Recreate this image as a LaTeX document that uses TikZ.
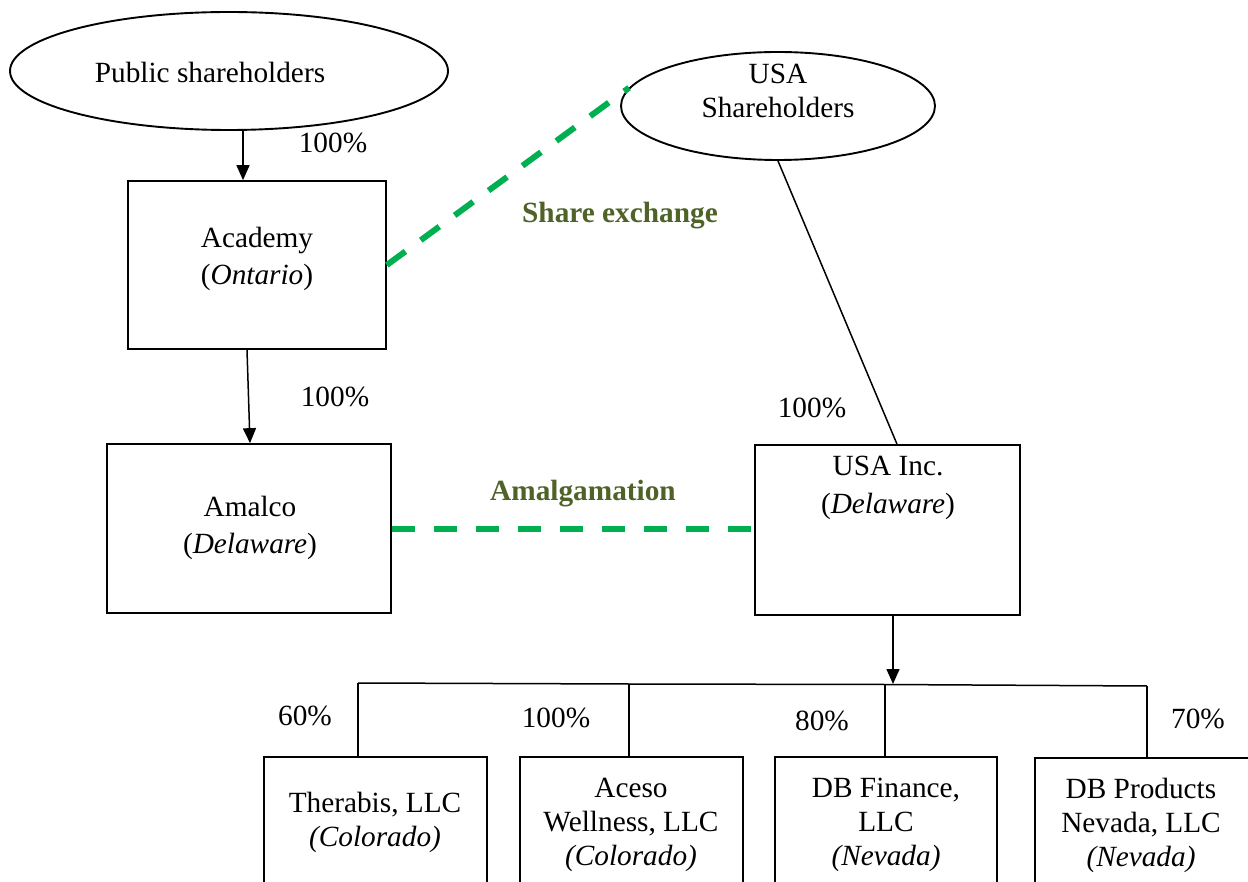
\documentclass[tikz,border=0pt]{standalone}
\usepackage{fontspec}
\setmainfont{Liberation Serif}
\usetikzlibrary{shapes.geometric,arrows.meta,calc}
\definecolor{dgreen}{HTML}{00B050}
\definecolor{olivelbl}{HTML}{4F6228}
\begin{document}
\begin{tikzpicture}[x=1pt,y=-1pt,
  every node/.style={font=\fontsize{29.3}{34}\selectfont},
  txt/.style={align=center, inner sep=0},
  wtxt/.style={align=center, inner sep=0, font=\fontsize{29.3}{37.5}\selectfont},
  box/.style={draw, line width=1.7pt, rectangle, inner sep=0},
  oval/.style={draw, line width=1.9pt, ellipse, inner sep=0},
  conn/.style={line width=1.5pt},
  arr/.style={conn, -{Triangle[length=15pt,width=13pt]}},
  greendash/.style={draw=dgreen, line width=6pt, dash pattern=on 23pt off 19pt},
  deal/.style={font=\fontsize{29.3}{34}\selectfont\bfseries, text=olivelbl, inner sep=0},
  pct/.style={inner sep=0}]
\clip (0,0) rectangle (1248,882);
\fill[white] (0,0) rectangle (1248,882);

% ellipses
\node[oval, minimum width=438pt, minimum height=118pt] (pub) at (229,71) {};
\node[oval, minimum width=314pt, minimum height=108pt] (usash) at (778,106) {};
\node[txt] (pubt) at (210,72) {Public shareholders};
\node[txt] (usasht) at (778,91) {USA\\Shareholders};

% main boxes
\node[box, minimum width=258pt, minimum height=168pt] (acad) at (257,265) {};
\node[box, minimum width=284pt, minimum height=169pt] (amal) at (249,528.5) {};
\node[box, minimum width=265pt, minimum height=170pt] (usainc) at (887.5,530) {};
\node[wtxt] (acadt) at (257,259) {Academy\\(\textit{Ontario})};
\node[wtxt] (amalt) at (250,528) {Amalco\\(\textit{Delaware})};
\node[wtxt] (usainct) at (888,488) {USA Inc.\\(\textit{Delaware})};

% bottom boxes
\node[box, minimum width=223pt, minimum height=193pt] (thera) at (375.5,853.5) {};
\node[box, minimum width=223pt, minimum height=193pt] (aceso) at (631.5,853.5) {};
\node[box, minimum width=222pt, minimum height=193pt] (dbf) at (886,853.5) {};
\node[box, minimum width=223pt, minimum height=193pt] (dbp) at (1146.5,854.5) {};
\node[txt] (therat) at (375,822) {Therabis, LLC\\\textit{(Colorado)}};
\node[txt] (acesot) at (631,825) {Aceso\\Wellness, LLC\\\textit{(Colorado)}};
\node[txt] (dbft) at (886,825) {DB Finance,\\LLC\\\textit{(Nevada)}};
\node[txt] (dbpt) at (1141,825) {DB Products\\Nevada, LLC\\\textit{(Nevada)}};

% percentages
\node[pct] (p1) at (333,143) {100\%};
\node[pct] (p2) at (335,397) {100\%};
\node[pct] (p3) at (812,408) {100\%};
\node[pct] (p4) at (305,716) {60\%};
\node[pct] (p5) at (556,718) {100\%};
\node[pct] (p6) at (822,721) {80\%};
\node[pct] (p7) at (1198,719) {70\%};

% deal labels
\node[deal] (se) at (620,216) {Share exchange};
\node[deal] (am) at (583,494) {Amalgamation};

% connectors
\coordinate (a1) at ($(pub.south)+(14,0)$);
\draw[arr] (a1) -- (a1 |- acad.north);
\draw[arr] ($(acad.south)+(-10,0)$) -- ($(amal.north)+(1,0)$);
\draw[conn] (usash.south) -- ($(usainc.north)+(9.5,0)$);
\draw[greendash] (acad.east) -- (usash.173);
\draw[greendash] (amal.east) -- (amal.east -| usainc.west);

% tree
\coordinate (bus) at (893,684);
\coordinate (j1) at (358,683);
\coordinate (j2) at (629,684);
\coordinate (j3) at (885,684.5);
\coordinate (j4) at (1147,686);
\draw[arr] (usainc.south -| bus) -- (bus);
\draw[conn] (j1) -- (j2) -- (j3) -- (j4);
\draw[conn] (j1) -- (j1 |- thera.north);
\draw[conn] (j2) -- (j2 |- aceso.north);
\draw[conn] (j3) -- (j3 |- dbf.north);
\draw[conn] (j4) -- (j4 |- dbp.north);
\end{tikzpicture}
\end{document}
